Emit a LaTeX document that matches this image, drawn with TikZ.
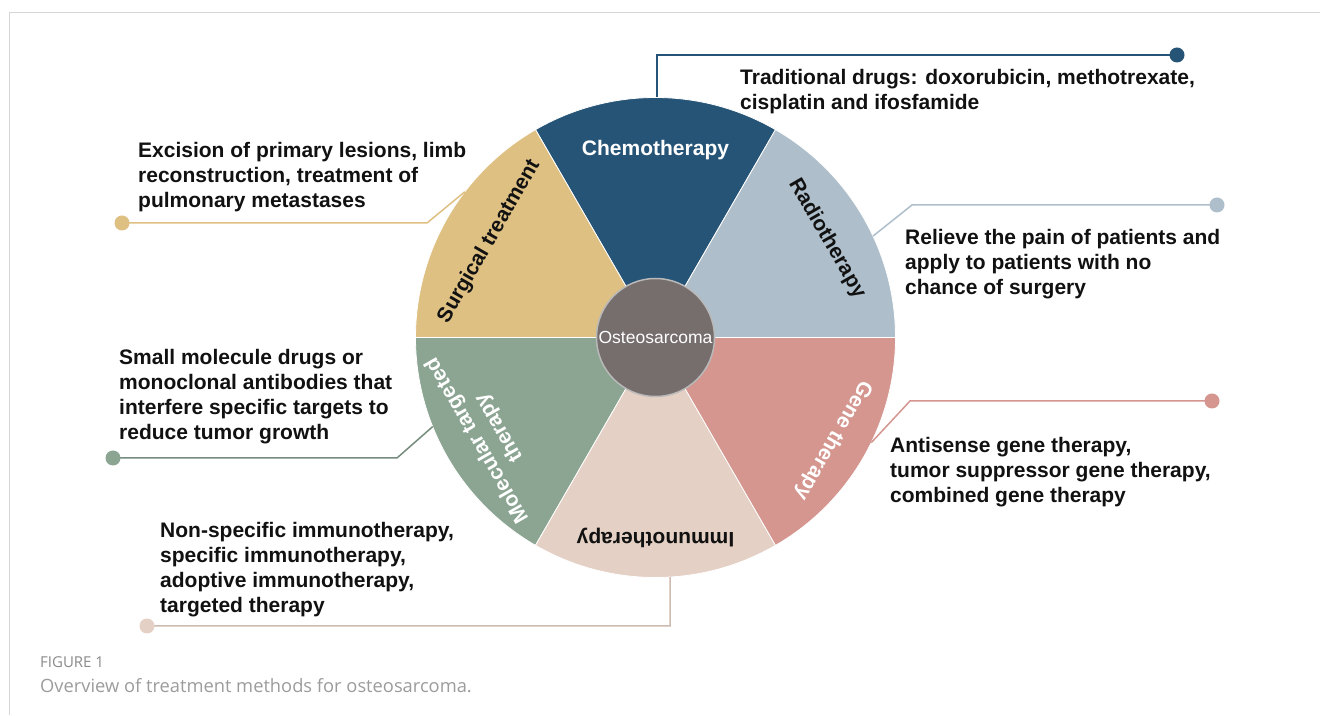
\documentclass[tikz,border=0pt]{standalone}
\usepackage{fontspec}
\setmainfont{Liberation Sans}
\newfontfamily\capfont{Open Sans}
\usetikzlibrary{calc}
\definecolor{chemoC}{HTML}{265476}
\definecolor{radioC}{HTML}{AEBFCB}
\definecolor{geneC}{HTML}{D4968F}
\definecolor{immunoC}{HTML}{E4D0C4}
\definecolor{molC}{HTML}{8BA592}
\definecolor{surgC}{HTML}{DFC083}
\definecolor{coreC}{HTML}{766D6D}
\definecolor{frameC}{HTML}{D5D5D5}
\definecolor{txtC}{HTML}{111111}
\definecolor{capC}{HTML}{8A8A8A}
\tikzset{
  wedge/.style={draw=white, line width=0.8pt},
  seglabel/.style={inner sep=0pt, font=\bfseries\fontsize{21}{25}\selectfont},
  desc/.style={anchor=north west, align=left, inner sep=0pt, text=txtC, font=\bfseries\fontsize{21}{25}\selectfont},
  leader/.style={line width=1.5pt},
}
\begin{document}
\begin{tikzpicture}[x=1pt,y=1pt]
\useasboundingbox (0,0) rectangle (1320,715);
\fill[white] (0,0) rectangle (1320,715);
\draw[frameC, line width=1pt] (9,0) -- (9,702) -- (1320,702);

\coordinate (C) at (655.5,377.5);
% wedges
\fill[chemoC,wedge]  (C) -- ++(60:240)  arc[start angle=60, end angle=120, radius=240] -- cycle;
\fill[surgC,wedge]   (C) -- ++(120:240) arc[start angle=120,end angle=180, radius=240] -- cycle;
\fill[molC,wedge]    (C) -- ++(180:240) arc[start angle=180,end angle=240, radius=240] -- cycle;
\fill[immunoC,wedge] (C) -- ++(240:240) arc[start angle=240,end angle=300, radius=240] -- cycle;
\fill[geneC,wedge]   (C) -- ++(300:240) arc[start angle=300,end angle=360, radius=240] -- cycle;
\fill[radioC,wedge]  (C) -- ++(0:240)   arc[start angle=0,  end angle=60,  radius=240] -- cycle;

% centre
\node[circle, fill=coreC, draw=gray!55, line width=1.5pt, minimum size=118pt, inner sep=0pt,
      text=white, font=\fontsize{17.5}{20}\selectfont] (core) at (C) {Osteosarcoma};

% segment labels
\node[seglabel, text=white] (lchemo) at ($(C)+(90:187)$) {Chemotherapy};
\node[seglabel, text=txtC, rotate=60] (lsurg) at ($(C)+(150:192)$) {Surgical treatment};
\node[seglabel, text=txtC, rotate=-60] (lradio) at ($(C)+(30:198)$) {Radiotherapy};
\node[seglabel, text=white, rotate=-120] (lgene) at ($(C)+(-30:205)$) {Gene therapy};
\node[seglabel, text=txtC, rotate=180] (limmuno) at ($(C)+(270:200)$) {Immunotherapy};
\node[seglabel, text=white, rotate=120, align=center] (lmol) at ($(C)+(210:193)$) {Molecular targeted\\therapy};

% leader coordinates
\coordinate (chemoA) at ($(C)+(90:240)$);
\coordinate (chemoB) at (657,660);
\coordinate (chemoD) at (1177,660);
\coordinate (radioA) at ($(C)+(25:240)$);
\coordinate (radioB) at (912,510);
\coordinate (radioD) at (1217,510);
\coordinate (geneA) at ($(C)+(-26:240)$);
\coordinate (geneB) at (910,314);
\coordinate (geneD) at (1212,314);
\coordinate (immunoA) at ($(C)+(-86.5:240)$);
\coordinate (immunoB) at (670,89);
\coordinate (immunoD) at (147,89);
\coordinate (molA) at ($(C)+(201.8:240)$);
\coordinate (molB) at (397,257);
\coordinate (molD) at (113,257);
\coordinate (surgA) at ($(C)+(142.6:240)$);
\coordinate (surgB) at (427,492);
\coordinate (surgD) at (122,492);

\draw[leader, chemoC, line width=2pt] (chemoA -| chemoB) -- (chemoB) -- (chemoD);
\fill[chemoC] (chemoD) circle (7.5);
\draw[leader, radioC] (radioA) -- (radioB) -- (radioD);
\fill[radioC] (radioD) circle (7.5);
\draw[leader, geneC] (geneA) -- (geneB) -- (geneD);
\fill[geneC] (geneD) circle (7.5);
\draw[leader, immunoC!90!black] (immunoA) -- (immunoB) -- (immunoD);
\fill[immunoC] (immunoD) circle (7.5);
\draw[leader, molC!85!black] (molA) -- (molB) -- (molD);
\fill[molC] (molD) circle (7.5);
\draw[leader, surgC] (surgA) -- (surgB) -- (surgD);
\fill[surgC] (surgD) circle (7.5);

% descriptions
\node[desc] (tchemo) at (740,646) {Traditional drugs: doxorubicin, methotrexate,\\cisplatin and ifosfamide};
\node[desc] (tradio) at (905,486) {Relieve the pain of patients and\\apply to patients with no\\chance of surgery};
\node[desc] (tgene) at (890,278) {Antisense gene therapy,\\tumor suppressor gene therapy,\\combined gene therapy};
\node[desc] (timmuno) at (160,193) {Non-specific immunotherapy,\\specific immunotherapy,\\adoptive immunotherapy,\\targeted therapy};
\node[desc] (tmol) at (119,366) {Small molecule drugs or\\monoclonal antibodies that\\interfere specific targets to\\reduce tumor growth};
\node[desc] (tsurg) at (138,573) {Excision of primary lesions, limb\\reconstruction, treatment of\\pulmonary metastases};

% caption
\node[anchor=west, inner sep=0pt, text=capC, font=\capfont\fontsize{15}{17}\selectfont] (fig) at (40,53) {FIGURE 1};
\node[anchor=west, inner sep=0pt, text=capC!85, font=\capfont\fontsize{18.3}{22}\selectfont] (cap) at (40,29) {Overview of treatment methods for osteosarcoma.};
\end{tikzpicture}
\end{document}
